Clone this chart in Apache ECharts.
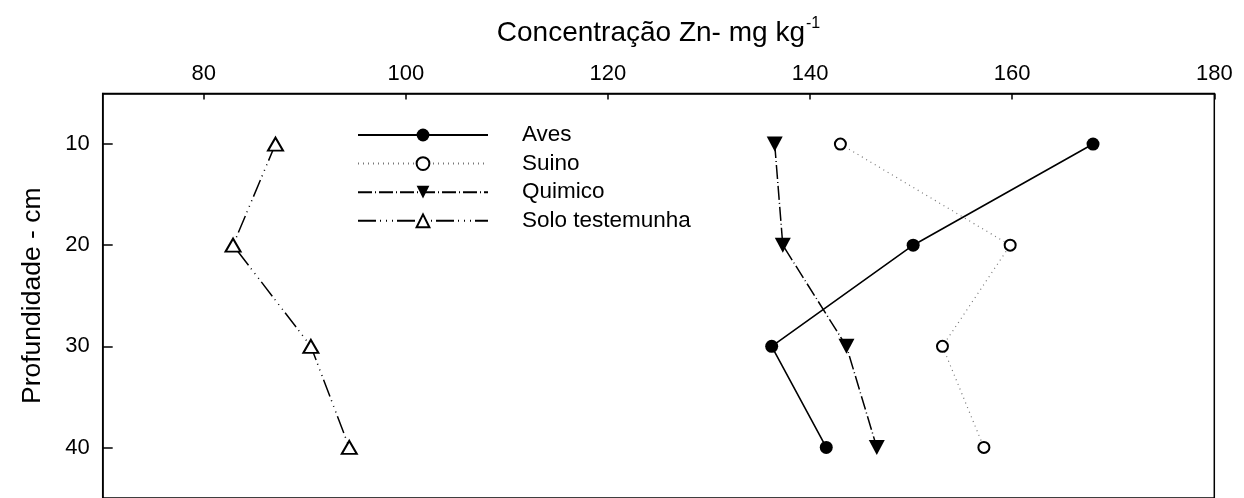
<!DOCTYPE html>
<html>
<head>
<meta charset="utf-8">
<script src="https://cdn.jsdelivr.net/npm/echarts@6/dist/echarts.min.js"></script>
<style>html,body{margin:0;padding:0;background:#fff;}#c{width:1244px;height:498px;}</style>
</head>
<body>
<div id="c"></div>
<script>
const depth = [10, 20, 30, 40];
const aves = [168.0, 150.2, 136.2, 141.6];
const suino = [143.0, 159.8, 153.1, 157.2];
const quimico = [136.5, 137.3, 143.6, 146.6];
const solo = [87.1, 82.9, 90.6, 94.4];
const xTicks = [80, 100, 120, 140, 160, 180];
const yTicks = [10, 20, 30, 40];
const seriesNames = ['Aves', 'Suino', 'Quimico', 'Solo testemunha'];

const FONT = 'Liberation Sans, Arial, sans-serif';
const chart = echarts.init(document.getElementById('c'), null, {renderer: 'canvas'});
const pts = arr => depth.map((d, i) => [arr[i], d]);

chart.setOption({
  animation: false,
  backgroundColor: '#fff',
  grid: {left: 102.7, top: 93.5, width: 1111.6, height: 410.4, show: true,
         borderColor: '#000', borderWidth: 1.5, backgroundColor: 'transparent'},
  legend: {
    orient: 'vertical', left: 352, top: 118.5,
    itemWidth: 130, itemHeight: 16, itemGap: 5.6,
    symbolRotate: 'inherit',
    textStyle: {fontFamily: FONT, fontSize: 22.5, color: '#000', lineHeight: 16, padding: [0, 0, 0, 29]},
    data: seriesNames
  },
  xAxis: {
    type: 'value', position: 'top', min: 70, max: 180,
    name: '{a|Concentração Zn- mg kg}{s|-1}', nameLocation: 'middle', nameGap: 46,
    nameTextStyle: {rich: {
      a: {fontFamily: FONT, fontSize: 28, color: '#000', lineHeight: 32, verticalAlign: 'bottom'},
      s: {fontFamily: FONT, fontSize: 16, color: '#000', lineHeight: 32, verticalAlign: 'top', padding: [0, 0, 14, 1]}
    }},
    axisLine: {show: true, lineStyle: {color: '#000', width: 1.5}},
    axisTick: {show: true, inside: true, length: 6, lineStyle: {color: '#000', width: 1.5}, customValues: xTicks},
    axisLabel: {fontFamily: FONT, fontSize: 22, color: '#000', margin: 9, customValues: xTicks},
    splitLine: {show: false}
  },
  yAxis: {
    type: 'value', inverse: true, min: 5, max: 45,
    name: 'Profundidade - cm', nameLocation: 'middle', nameGap: 57,
    nameTextStyle: {fontFamily: FONT, fontSize: 26.5, color: '#000'},
    axisLine: {show: true, lineStyle: {color: '#000', width: 1.5}},
    axisTick: {show: true, inside: true, length: 10, lineStyle: {color: '#000', width: 1.5}, customValues: yTicks},
    axisLabel: {fontFamily: FONT, fontSize: 22, color: '#000', margin: 13, customValues: yTicks},
    splitLine: {show: false}
  },
  series: [
    {name: seriesNames[0], type: 'line', data: pts(aves), symbol: 'circle', symbolSize: 13,
     itemStyle: {color: '#000'}, lineStyle: {color: '#000', width: 1.6, type: 'solid'}},
    {name: seriesNames[1], type: 'line', data: pts(suino), symbol: 'emptyCircle', symbolSize: 11,
     itemStyle: {color: '#000', borderWidth: 1.5}, lineStyle: {color: '#777', width: 1.2, type: [1, 4]}},
    {name: seriesNames[2], type: 'line', data: pts(quimico), symbol: 'triangle', symbolSize: [16, 15], symbolRotate: 180,
     itemStyle: {color: '#000'}, lineStyle: {color: '#000', width: 1.5, type: [14, 3, 1, 3]}},
    {name: seriesNames[3], type: 'line', data: pts(solo), symbol: 'emptyTriangle', symbolSize: [15, 13],
     itemStyle: {color: '#000', borderWidth: 1.5}, lineStyle: {color: '#000', width: 1.5, type: [18, 4, 1, 5, 1, 5, 1, 4]}}
  ]
});
</script>
</body>
</html>
